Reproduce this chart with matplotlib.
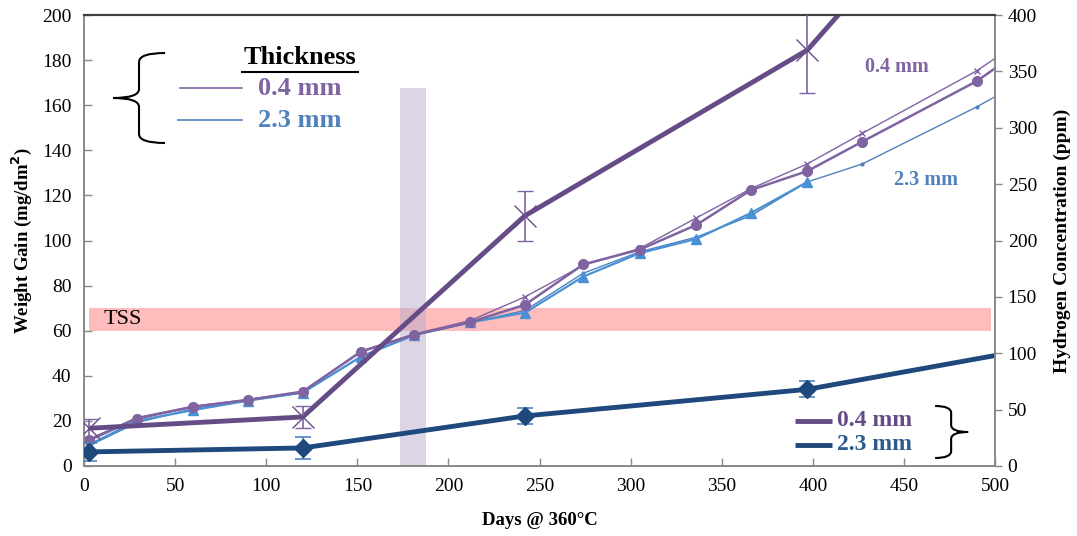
import numpy as np
import matplotlib
matplotlib.use("Agg")
from matplotlib import pyplot as plt
from matplotlib.path import Path
from matplotlib.patches import PathPatch
from matplotlib.lines import Line2D

plt.rcParams['font.family'] = ['Liberation Serif', 'DejaVu Serif']

# weight gain (mg/dm2), left axis
days = [3, 29, 60, 90, 120, 152, 181, 212, 242, 274, 305, 336, 366, 397, 427, 490, 500]
wg_04_x = [12, 21.5, 26.5, 29.5, 33, 51, 58.5, 64.5, 75, 89, 96.5, 110, 123, 134, 147.5, 175.3, 180.8]
wg_04_o = [11.5, 21, 26.3, 29.3, 33, 50.7, 58.2, 63.8, 71.5, 89.4, 96, 106.9, 122.4, 130.8, 143.8, 170.7, 176.4]
wg_23_thin = [9, 19.2, 25.5, 29, 32.5, 48.5, 58, 63.5, 69, 85.5, 95, 101.5, 111, 126, 133.9, 159.3, 163.8]
days_tri = [3, 29, 60, 90, 120, 152, 181, 212, 242, 274, 305, 336, 366, 397]
wg_23_tri = [9.5, 20, 24.8, 29, 32.5, 48.5, 58, 63.7, 68, 84, 94.4, 100.7, 112.2, 126]

# hydrogen concentration (ppm), right axis
h_days_04 = [3, 120, 242, 397, 427]
h_04 = [33.5, 43.5, 222, 369, 424]
h_04_err = [8, 10, 22, 38, 0]
h_days_23 = [3, 120, 242, 397, 500]
h_23 = [12.5, 16, 44.4, 68, 98]
h_23_err = [8, 10, 7, 7, 0]

purple = '#8064a2'
dpurple = '#654c86'
lblue = '#4a90d4'
blue = '#4f81bd'
dblue = '#1f497d'

fig = plt.figure(figsize=(10.77, 5.36), dpi=100)
ax = fig.add_axes([0.078, 0.1306, 0.846, 0.8414])
ax2 = ax.twinx()

# TSS band and transition band (behind the data)
ax.axhspan(60, 70, xmin=0.005, xmax=0.995, color='#ff7b7b', alpha=0.5, lw=0, zorder=1)
ax.axvspan(173.5, 187.5, ymax=0.838, color='#b9adcd', alpha=0.5, lw=0, zorder=1)
ax.text(11, 65, 'TSS', fontsize=16, va='center', ha='left', zorder=4)

# thin weight gain series
ax.plot(days, wg_23_thin, color=blue, lw=1.0, marker='o', ms=2, markevery=list(range(16)), zorder=2)
ax.plot(days_tri, wg_23_tri, color=lblue, lw=1.6, marker='^', ms=7, zorder=2)
ax.plot(days, wg_04_x, color=purple, lw=1.0, marker='x', ms=5, mew=1, markevery=list(range(16)), zorder=2)
ax.plot(days, wg_04_o, color=purple, lw=1.8, marker='o', ms=7, markevery=list(range(16)), zorder=2)

# hydrogen series
ax2.plot(h_days_04, h_04, color=dpurple, lw=3.5, zorder=2, solid_capstyle='butt')
ax2.errorbar(h_days_04[:4], h_04[:4], yerr=h_04_err[:4], fmt='x', color=dpurple, ms=16, mew=1.0,
             ecolor=purple, elinewidth=1.2, capsize=6, capthick=1.2, zorder=3)
ax2.plot(h_days_23, h_23, color=dblue, lw=3.5, zorder=2)
ax2.errorbar(h_days_23[:4], h_23[:4], yerr=h_23_err[:4], fmt='D', color=dblue, ms=9,
             ecolor=blue, elinewidth=1.2, capsize=6, capthick=1.2, zorder=3)

ax.set_xlim(0, 500)
ax.set_ylim(0, 200)
ax2.set_ylim(0, 400)
ax.set_xticks(np.arange(0, 501, 50))
ax.set_yticks(np.arange(0, 201, 20))
ax2.set_yticks(np.arange(0, 401, 50))
ax.tick_params(axis='both', direction='in', length=6, width=1, color='#888888', labelsize=14, pad=9)
ax2.tick_params(axis='y', direction='out', length=5, width=1, color='#888888', labelsize=14, pad=4)
ax2.tick_params(axis='x', which='both', length=0)

for a in (ax, ax2):
    for s in ('left', 'bottom', 'right'):
        a.spines[s].set_color('#888888')
        a.spines[s].set_linewidth(1.2)
    a.spines['top'].set_color('#404040')
    a.spines['top'].set_linewidth(1.5)

ax.set_xlabel('Days @ 360°C', fontsize=13.5, fontweight='bold', labelpad=12)
ax.set_ylabel('Weight Gain (mg/dm$^\\mathbf{2}$)', fontsize=13.5, fontweight='bold', labelpad=6)
ax2.set_ylabel('Hydrogen Concentration (ppm)', fontsize=14, fontweight='bold', labelpad=12)

# top-left legend
ax.text(0.237, 0.905, 'Thickness', transform=ax.transAxes, fontsize=19, fontweight='bold',
        ha='center', va='center')
ax.add_line(Line2D([0.173, 0.301], [0.873, 0.873], transform=ax.transAxes, color='black', lw=1.5))
ax.add_line(Line2D([0.105, 0.173], [0.838, 0.838], transform=ax.transAxes, color=purple, lw=1.2))
ax.add_line(Line2D([0.103, 0.173], [0.767, 0.767], transform=ax.transAxes, color=blue, lw=1.2))
ax.text(0.191, 0.838, '0.4 mm', transform=ax.transAxes, fontsize=19, fontweight='bold',
        color=purple, va='center', ha='left')
ax.text(0.191, 0.767, '2.3 mm', transform=ax.transAxes, fontsize=19, fontweight='bold',
        color=blue, va='center', ha='left')

# bottom-right legend
ax.add_line(Line2D([0.780, 0.821], [0.0998, 0.0998], transform=ax.transAxes, color=dpurple, lw=3.5,
                   solid_capstyle='butt'))
ax.add_line(Line2D([0.780, 0.821], [0.0466, 0.0466], transform=ax.transAxes, color=dblue, lw=3.5,
                   solid_capstyle='butt'))
ax.text(0.826, 0.0998, '0.4 mm', transform=ax.transAxes, fontsize=17, fontweight='bold',
        color=dpurple, va='center', ha='left')
ax.text(0.826, 0.0466, '2.3 mm', transform=ax.transAxes, fontsize=17, fontweight='bold',
        color='#2e5a8e', va='center', ha='left')

# series annotations
ax.text(0.892, 0.885, '0.4 mm', transform=ax.transAxes, fontsize=14.5, fontweight='bold',
        color=purple, va='center', ha='center')
ax.text(0.924, 0.634, '2.3 mm', transform=ax.transAxes, fontsize=14.5, fontweight='bold',
        color=blue, va='center', ha='center')


def px(x, y):
    # figure pixel (from top-left) to axes fraction
    return ((x - 84) / 911.0, (466 - y) / 451.0)


def brace(x_tip, x_mid, x_end, y_top, y_bot, r=9):
    ym = (y_top + y_bot) / 2.0
    verts = [px(x_end, y_top), px(x_mid, y_top), px(x_mid, y_top + r),
             px(x_mid, ym - r),
             px(x_mid, ym), px(x_tip, ym),
             px(x_mid, ym), px(x_mid, ym + r),
             px(x_mid, y_bot - r),
             px(x_mid, y_bot), px(x_end, y_bot)]
    codes = [Path.MOVETO, Path.CURVE3, Path.CURVE3, Path.LINETO,
             Path.CURVE3, Path.CURVE3, Path.CURVE3, Path.CURVE3,
             Path.LINETO, Path.CURVE3, Path.CURVE3]
    p = PathPatch(Path(verts, codes), transform=ax.transAxes, fill=False,
                  lw=1.5, color='black', clip_on=False, zorder=5)
    ax.add_patch(p)


brace(113, 139, 165, 53, 143)
brace(968, 951, 935, 406, 458, r=7)

fig.savefig('out.png', dpi=100)
